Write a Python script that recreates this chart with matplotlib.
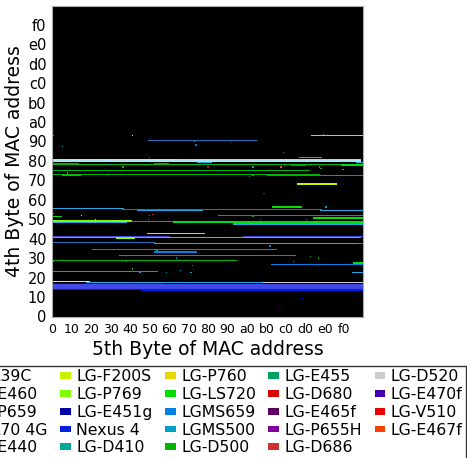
import numpy as np
import matplotlib
matplotlib.use('Agg')
import matplotlib.pyplot as plt
from matplotlib.patches import Patch

# device models, legend order (column-major, 5 columns)
models = ['LGL39C', 'LG-E460', 'LG-P659', 'LGL70 4G', 'LG-E440',
          'LG-F200S', 'LG-P769', 'LG-E451g', 'Nexus 4', 'LG-D410',
          'LG-P760', 'LG-LS720', 'LGMS659', 'LGMS500', 'LG-D500',
          'LG-E455', 'LG-D680', 'LG-E465f', 'LG-P655H', 'LG-D686',
          'LG-D520', 'LG-E470f', 'LG-V510', 'LG-E467f']
colors = ['#b0e4f0', '#84b040', '#2a70b8', '#4048e8', '#22a8e8',
          '#c8f000', '#80ff00', '#0000a8', '#0020e0', '#00a8a0',
          '#e8d800', '#00e000', '#0080e0', '#00a0c8', '#00b400',
          '#00a060', '#d80000', '#600060', '#8000a0', '#d03030',
          '#cccccc', '#4000b0', '#e80000', '#ff4000']

# observed address ranges: (model, 4th byte, first 5th byte, last 5th byte)
lines = [
    ('LG-P769', 149, 213, 255), ('LG-P659', 145, 79, 168),
    ('LGL39C', 129, 0, 106), ('LG-D520', 129, 106, 253), ('LGL39C', 128, 0, 253),
    ('LG-E440', 127, 119, 131), ('LG-E440', 127, 250, 255),
    ('LG-D500', 125, 0, 255), ('LG-D500', 126, 0, 21), ('LG-D500', 126, 84, 95),
    ('LG-LS720', 124, 238, 255), ('LG-LS720', 125, 238, 255), ('LGMS659', 124, 197, 208),
    ('LG-LS720', 131, 203, 221),
    ('LG-D500', 120, 0, 211), ('LG-D500', 117, 0, 220), ('LG-D500', 116, 177, 255),
    ('LGMS500', 116, 8, 23),
    ('LG-F200S', 109, 202, 234),
    ('LG-LS720', 90, 181, 205),
    ('LG-E440', 89, 0, 58), ('LG-P659', 88, 58, 221), ('LG-E440', 87, 70, 123),
    ('LG-E440', 87, 221, 255),
    ('LG-D500', 85, 0, 1), ('LG-LS720', 82, 0, 7), ('LG-D500', 83, 137, 255),
    ('LG-LS720', 81, 215, 255),
    ('LG-P769', 79, 0, 65), ('LG-P769', 78, 0, 65), ('LG-D500', 78, 65, 100),
    ('LG-LS720', 78, 100, 255), ('LG-LS720', 77, 100, 255),
    ('LG-E440', 77, 0, 61), ('LG-E440', 76, 149, 255),
    ('LG-P760', 68, 78, 125),
    ('LGL70 4G', 66, 0, 96), ('LGL70 4G', 66, 157, 255), ('LG-E460', 65, 0, 253),
    ('LG-P769', 65, 53, 67), ('LG-P769', 64, 53, 67),
    ('LG-P659', 61, 0, 84), ('LG-E440', 60, 84, 253), ('LG-P659', 60, 253, 255),
    ('LG-D500', 55, 33, 184), ('LGMS659', 53, 84, 118), ('LG-D500', 50, 55, 200),
    ('LG-D500', 46, 0, 151), ('LG-LS720', 44, 248, 255), ('LGMS659', 43, 180, 255),
    ('LG-D410', 37, 0, 86), ('LG-E440', 36, 247, 255),
    ('LGL39C', 29, 0, 30), ('LG-E440', 28, 28, 174), ('LG-D520', 28, 174, 255),
    ('LG-E451g', 27, 0, 90), ('LGL70 4G', 26, 0, 255), ('LGL70 4G', 25, 0, 255),
    ('LGL70 4G', 24, 0, 255), ('LGL70 4G', 23, 0, 255), ('Nexus 4', 22, 0, 255),
    ('Nexus 4', 21, 73, 255),
]

# isolated single addresses: (model, 4th byte, 5th byte)
dots = [
    ('LG-D500', 149, 1), ('LG-D520', 149, 66), ('LG-LS720', 150, 223),
    ('LG-D410', 144, 117), ('LGMS659', 141, 118), ('LG-D410', 140, 8),
    ('LG-D680', 143, 147), ('LGMS659', 135, 190), ('LG-D500', 131, 80),
    ('LGMS500', 125, 48), ('LG-D500', 124, 77), ('LG-D500', 123, 58),
    ('LG-D680', 123, 128), ('LG-D500', 123, 220), ('LG-D500', 122, 221),
    ('LG-E467f', 123, 188), ('LGMS659', 124, 191), ('LGMS500', 123, 165),
    ('LG-D686', 124, 212), ('LGMS500', 121, 239), ('LG-D680', 116, 45),
    ('LGMS500', 118, 12), ('LG-D500', 115, 162), ('LGMS500', 116, 165),
    ('LG-V510', 101, 174),
    ('LGMS500', 90, 225), ('LG-P760', 83, 24), ('LG-E467f', 84, 82),
    ('LG-D500', 83, 80), ('LG-F200S', 80, 35), ('LG-D500', 80, 79),
    ('LG-D500', 82, 165), ('LG-D500', 80, 171), ('LG-D500', 80, 209),
    ('Nexus 4', 71, 142),
    ('LGMS500', 55, 177), ('LGMS659', 58, 179), ('LG-D410', 54, 86),
    ('LG-D500', 49, 212), ('LG-D500', 48, 219), ('LGMS659', 48, 102),
    ('LGMS500', 45, 1), ('LGMS500', 45, 61), ('LGMS500', 45, 198),
    ('LG-D500', 42, 115), ('LG-D500', 39, 66), ('LG-D410', 38, 105),
    ('LGMS500', 36, 72), ('LG-D410', 36, 94), ('LGMS500', 36, 114),
    ('Nexus 4', 15, 206), ('LG-P655H', 8, 186),
]

color_of = dict(zip(models, colors))
img = np.zeros((256, 256, 3))
for m, row, x0, x1 in lines:
    img[row, x0:x1 + 1] = matplotlib.colors.to_rgb(color_of[m])
for m, row, x in dots:
    img[row, x] = matplotlib.colors.to_rgb(color_of[m])

fig = plt.figure(figsize=(4.67, 4.58), dpi=100)
ax = fig.add_axes([52 / 467, 141 / 458, 311 / 467, 311 / 458])
ax.imshow(img, origin='lower', extent=(-0.5, 255.5, -0.5, 255.5), aspect='auto',
          interpolation='nearest')

ticks = list(range(0, 256, 16))
ax.set_xticks(ticks)
ax.set_xticklabels(['%x' % t for t in ticks], fontsize=9)
ax.set_yticks(ticks)
ax.set_yticklabels(['%x' % t for t in ticks], fontsize=10.5)
ax.tick_params(length=0, pad=4)
for s in ax.spines.values():
    s.set_color('#aaaaaa')
ax.set_xlabel('5th Byte of MAC address', fontsize=13.5, labelpad=3)
ax.set_ylabel('4th Byte of MAC address', fontsize=13.5, labelpad=3)

handles = [Patch(facecolor=c, edgecolor='none') for c in colors]
leg = ax.legend(handles, models, ncol=5, loc='upper right',
                bbox_to_anchor=(466 / 467, 1 - 366 / 458), bbox_transform=fig.transFigure,
                fontsize=11.3, fancybox=False, edgecolor='#333333', framealpha=1,
                handlelength=0.7, handleheight=0.3, handletextpad=0.35,
                columnspacing=0.78, labelspacing=0.18, borderpad=0.2, borderaxespad=0)
leg.get_frame().set_linewidth(1)

fig.savefig('out.png', dpi=100)
